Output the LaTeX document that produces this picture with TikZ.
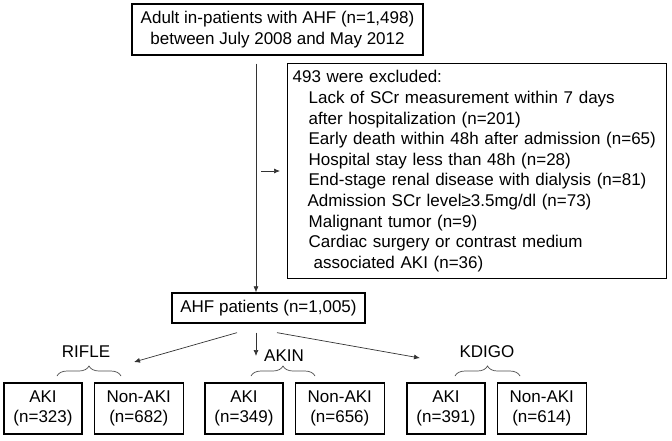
\documentclass[tikz,border=0pt]{standalone}
\usepackage{fontspec}
\setmainfont{Liberation Sans}
\usepackage{tikz}
\usetikzlibrary{positioning,decorations.pathreplacing,arrows.meta}

\begin{document}
\begin{tikzpicture}[x=1pt,y=-1pt,
    font=\fontsize{17pt}{20.6pt}\selectfont,
    box/.style = {draw, line width=1.3pt, rectangle, align=center, inner sep=3pt},
    grp/.style = {box, minimum height=51pt},
    lbl/.style = {inner sep=1pt},
    arr/.style = {-{Latex[length=6pt,width=5pt]}, line width=0.7pt, draw=black!80},
    brc/.style = {decorate, decoration={brace, amplitude=10pt}, line width=0.7pt, draw=black!70}]
        \useasboundingbox (0,0) rectangle (672,440);

        \node[box, minimum width=291pt, minimum height=51pt] (adult) at (277.5,29.5)
            {Adult in-patients with AHF (n=1,498)\\between July 2008 and May 2012};
        \node[box, anchor=north west, text width=369pt, minimum height=215pt, inner xsep=5pt, align=left] (excl) at (287,63)
            {493 were excluded:\\
             \hspace*{16pt}Lack of SCr measurement within 7 days\\
             \hspace*{16pt}after hospitalization (n=201)\\
             \hspace*{16pt}Early death within 48h after admission (n=65)\\
             \hspace*{16pt}Hospital stay less than 48h (n=28)\\
             \hspace*{16pt}End-stage renal disease with dialysis (n=81)\\
             \hspace*{15pt}Admission SCr level≥3.5mg/dl (n=73)\\
             \hspace*{16pt}Malignant tumor (n=9)\\
             \hspace*{16pt}Cardiac surgery or contrast medium\\
             \hspace*{21pt}associated AKI (n=36)};
        \node[box, minimum width=193pt, minimum height=30pt] (ahf) at (268.5,308) {AHF patients (n=1,005)};
        \coordinate (split) at (256,171);

        \node[lbl] (rifle) at (86,352) {RIFLE};
        \node[lbl] (akin) at (284,356) {AKIN};
        \node[lbl] (kdigo) at (487,352) {KDIGO};

        \node[grp, minimum width=78pt] (aki1) at (43,408.5) {AKI\\(n=323)};
        \node[grp, minimum width=89pt] (non1) [right=11pt of aki1] {Non-AKI\\(n=682)};
        \node[grp, minimum width=78pt] (aki2) at (244,408.5) {AKI\\(n=349)};
        \node[grp, minimum width=89pt] (non2) [right=11pt of aki2] {Non-AKI\\(n=656)};
        \node[grp, minimum width=78pt] (aki3) at (446,408.5) {AKI\\(n=391)};
        \node[grp, minimum width=89pt] (non3) [right=11pt of aki3] {Non-AKI\\(n=614)};

        \coordinate[below left=9pt and 31.5pt of ahf.south] (s1);
        \coordinate[below right=9pt and 8.5pt of ahf.south] (s3);
        \coordinate (t1) at (134,362);
        \coordinate (t3) at (420,358);

        \draw[arr, shorten <=8pt] (adult.south -| split) -- (ahf.north -| split);
        \draw[arr, shorten <=5pt, shorten >=7pt] (split) -- (split -| excl.west);
        \draw[arr] (s1) -- (t1);
        \draw[arr, shorten <=9pt] (split |- ahf.south) -- (split |- akin.west);
        \draw[arr] (s3) -- (t3);

        \draw[brc] (57,376) -- (121,376);
        \draw[brc] (251,376) -- (315,376);
        \draw[brc] (455,376) -- (520,376);
\end{tikzpicture}
\end{document}
